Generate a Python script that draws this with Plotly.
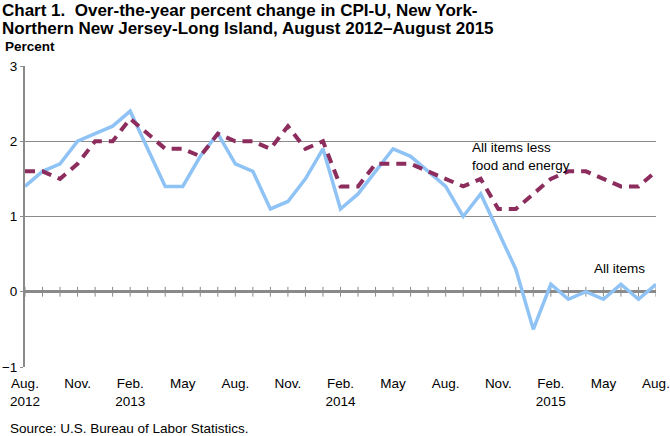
import plotly.graph_objects as go

months = list(range(37))
tick_pos = [0, 3, 6, 9, 12, 15, 18, 21, 24, 27, 30, 33, 36]
tick_text = ["Aug.<br>2012", "Nov.", "Feb.<br>2013", "May", "Aug.", "Nov.", "Feb.<br>2014",
             "May", "Aug.", "Nov.", "Feb.<br>2015", "May", "Aug."]

all_items = [1.4, 1.6, 1.7, 2.0, 2.1, 2.2, 2.4, 1.9, 1.4, 1.4, 1.8, 2.1,
             1.7, 1.6, 1.1, 1.2, 1.5, 1.9, 1.1, 1.3, 1.6, 1.9, 1.8, 1.6,
             1.4, 1.0, 1.3, 0.8, 0.3, -0.5, 0.1, -0.1, 0.0, -0.1, 0.1, -0.1, 0.1]
core = [1.6, 1.6, 1.5, 1.7, 2.0, 2.0, 2.3, 2.1, 1.9, 1.9, 1.8, 2.1,
        2.0, 2.0, 1.9, 2.2, 1.9, 2.0, 1.4, 1.4, 1.7, 1.7, 1.7, 1.6,
        1.5, 1.4, 1.5, 1.1, 1.1, 1.3, 1.5, 1.6, 1.6, 1.5, 1.4, 1.4, 1.6]

font = "Arial, Liberation Sans, sans-serif"
PW, PH = 631, 301

fig = go.Figure()
# month tick marks on the zero line
fig.add_trace(go.Scatter(x=months, y=[0] * len(months), mode="markers",
                         marker=dict(symbol="line-ns", size=7, line=dict(color="#8a8a8a", width=1)),
                         hoverinfo="skip", showlegend=False))
fig.add_trace(go.Scatter(x=months, y=all_items, mode="lines", name="All items",
                         line=dict(color="#8fc3f5", width=3.5), showlegend=False))
fig.add_trace(go.Scatter(x=months, y=core, mode="lines", name="All items less food and energy",
                         line=dict(color="#8c2d5e", width=4, dash="10px,7px"), showlegend=False))

fig.update_layout(
    width=670, height=436,
    margin=dict(l=25, r=14, t=66, b=69),
    paper_bgcolor="white", plot_bgcolor="white",
    font=dict(family=font, size=13.5, color="black"),
    showlegend=False,
    xaxis=dict(range=[0, 36], tickvals=tick_pos, ticktext=tick_text, showgrid=False,
               zeroline=False, showline=False, ticks="outside", ticklen=4,
               tickcolor="rgba(0,0,0,0)", tickfont=dict(size=13.5), automargin=False),
    yaxis=dict(range=[-1, 3], dtick=1, showgrid=True, gridcolor="#8a8a8a", gridwidth=1,
               zeroline=True, zerolinecolor="#8a8a8a", zerolinewidth=3,
               showline=True, linecolor="#8a8a8a", linewidth=2, ticks="outside",
               ticklen=3, tickcolor="#8a8a8a", tickfont=dict(size=13.5), automargin=False),
    annotations=[
        dict(text="<b>Chart 1.  Over-the-year percent change in CPI-U, New York-</b>",
             xref="paper", yref="paper", x=-25 / PW, y=1 + 56 / PH, xanchor="left", yanchor="middle",
             showarrow=False, align="left", font=dict(size=17, family=font, color="black")),
        dict(text="<b>Northern New Jersey-Long Island, August 2012\u2013August 2015</b>",
             xref="paper", yref="paper", x=-25 / PW, y=1 + 38 / PH, xanchor="left", yanchor="middle",
             showarrow=False, align="left", font=dict(size=17, family=font, color="black")),
        dict(text="<b>Percent</b>", xref="paper", yref="paper", x=-22 / PW, y=1 + 19 / PH,
             xanchor="left", yanchor="middle", showarrow=False, font=dict(size=13.5)),
        dict(text="All items less<br>food and energy", x=25.4, y=1.8, xanchor="left", yanchor="middle",
             showarrow=False, align="left", font=dict(size=13.5)),
        dict(text="All items", x=33.9, y=0.31, xanchor="center", yanchor="middle",
             showarrow=False, font=dict(size=13.5)),
        dict(text="Source: U.S. Bureau of Labor Statistics.", xref="paper", yref="paper",
             x=-17 / PW, y=-61 / PH, xanchor="left", yanchor="middle", showarrow=False,
             font=dict(size=13.5)),
    ],
)

fig.write_html("out.html", config={"displayModeBar": False},
               post_script="document.body.style.margin='0';")
